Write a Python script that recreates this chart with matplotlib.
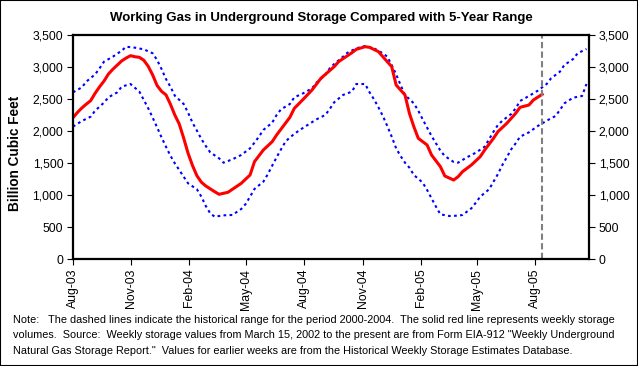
import numpy as np
import matplotlib
matplotlib.use("Agg")
import matplotlib.pyplot as plt
import matplotlib.dates as mdates
from matplotlib.patches import Rectangle
from matplotlib.ticker import FuncFormatter

# ---- data (week number counted from the week ending 2003-08-01) ----
start_date = np.datetime64("2003-08-01")
axis_end = np.datetime64("2005-10-25")
report_date = np.datetime64("2005-08-12")

red_weeks = [0, 1, 2, 3, 4, 5, 6, 7, 8, 9, 10, 11, 12, 13, 14, 15, 16, 17, 18, 19, 20, 21, 22,
             23, 24, 25, 26, 27, 28, 29, 30, 32, 33, 35, 38, 40, 41, 43, 45, 46, 49, 50, 52,
             54, 56, 59, 60, 63, 64, 66, 67, 69, 70, 72, 73, 75, 76, 77, 78, 80, 81, 83, 84,
             86, 87, 88, 89, 90, 92, 93, 95, 96, 98, 100, 101, 103, 104, 106]
red_vals = [2208, 2290, 2360, 2420, 2475, 2590, 2690, 2780, 2890, 2965, 3030, 3095, 3140, 3177,
            3160, 3151, 3105, 3010, 2875, 2710, 2620, 2565, 2420, 2250, 2110, 1890, 1651, 1460,
            1300, 1200, 1141, 1052, 1011, 1042, 1182, 1313, 1521, 1703, 1833, 1938, 2214, 2354,
            2495, 2641, 2823, 3005, 3083, 3223, 3276, 3317, 3307, 3240, 3161, 3005, 2719, 2563,
            2276, 2068, 1886, 1781, 1625, 1443, 1297, 1234, 1286, 1365, 1417, 1469, 1599, 1703,
            1886, 1990, 2120, 2276, 2370, 2406, 2484, 2573]

max_weeks = [0, 2, 3, 5, 6, 7, 9, 11, 12, 14, 16, 18, 19, 20, 21, 22, 23, 25, 26, 27, 28, 29,
             30, 31, 33, 34, 36, 38, 40, 41, 42, 43, 45, 46, 47, 49, 50, 52, 54, 55, 57, 58,
             59, 61, 62, 64, 66, 68, 70, 71, 72, 73, 74, 75, 77, 78, 79, 80, 81, 82, 83, 84,
             86, 87, 89, 91, 93, 94, 95, 96, 97, 99, 100, 101, 103, 105, 107, 108, 110, 111,
             113, 114, 116]
max_vals = [2604, 2682, 2771, 2885, 2979, 3083, 3161, 3255, 3317, 3302, 3276, 3214, 3109, 2969,
            2813, 2693, 2552, 2422, 2286, 2130, 2005, 1875, 1766, 1667, 1573, 1505, 1557, 1625,
            1729, 1818, 1911, 2016, 2130, 2250, 2339, 2422, 2526, 2589, 2667, 2755, 2875, 2979,
            3047, 3161, 3223, 3292, 3328, 3292, 3214, 3161, 3031, 2885, 2719, 2563, 2432, 2318,
            2182, 2052, 1922, 1807, 1693, 1609, 1516, 1505, 1589, 1661, 1755, 1870, 1990, 2094,
            2161, 2266, 2354, 2469, 2547, 2630, 2734, 2823, 2927, 3031, 3125, 3214, 3281]

min_weeks = [0, 2, 4, 5, 7, 8, 10, 11, 13, 15, 16, 17, 18, 19, 20, 21, 22, 23, 24, 25, 26, 28,
             29, 30, 31, 32, 34, 36, 38, 39, 40, 41, 43, 44, 45, 46, 47, 48, 49, 51, 53, 55,
             57, 58, 59, 61, 63, 64, 66, 67, 68, 69, 70, 71, 72, 73, 74, 75, 76, 77, 79, 80,
             81, 82, 83, 85, 87, 88, 90, 91, 92, 94, 95, 96, 97, 98, 99, 100, 101, 103, 105,
             107, 109, 110, 111, 113, 115, 116]
min_vals = [2068, 2156, 2224, 2318, 2443, 2526, 2604, 2693, 2734, 2615, 2484, 2354, 2208, 2057,
            1901, 1755, 1615, 1495, 1391, 1286, 1182, 1089, 974, 828, 714, 661, 682, 688, 781,
            859, 974, 1094, 1208, 1323, 1458, 1589, 1714, 1833, 1901, 2005, 2094, 2182, 2250,
            2344, 2448, 2563, 2615, 2734, 2734, 2604, 2495, 2370, 2234, 2078, 1911, 1729, 1609,
            1505, 1427, 1313, 1193, 1078, 948, 818, 698, 672, 677, 688, 792, 880, 974, 1089,
            1208, 1328, 1469, 1589, 1714, 1807, 1911, 1979, 2078, 2161, 2234, 2328, 2432, 2521,
            2547, 2734]

y_ticks = [0, 500, 1000, 1500, 2000, 2500, 3000, 3500]
x_tick_dates = ["2003-08-01", "2003-11-01", "2004-02-01", "2004-05-01", "2004-08-01",
                "2004-11-01", "2005-02-01", "2005-05-01", "2005-08-01"]

title = "Working Gas in Underground Storage Compared with 5-Year Range"
ylabel = "Billion Cubic Feet"
note_lines = [
    "Note:   The dashed lines indicate the historical range for the period 2000-2004.  The solid red line represents weekly storage",
    "volumes.  Source:  Weekly storage values from March 15, 2002 to the present are from Form EIA-912 \"Weekly Underground",
    "Natural Gas Storage Report.\"  Values for earlier weeks are from the Historical Weekly Storage Estimates Database.",
]


def to_dates(weeks):
    return start_date + np.array(weeks) * np.timedelta64(7, "D")


plt.rcParams["font.family"] = ["Liberation Sans", "DejaVu Sans"]

W, H = 638, 366
fig = plt.figure(figsize=(W / 100, H / 100), dpi=100)
fig.patch.set_facecolor("white")

L, R, T, B = 73, 589, 35, 259
ax = fig.add_axes([L / W, 1 - B / H, (R - L) / W, (B - T) / H])

ax.plot(to_dates(max_weeks), max_vals, color="#0000FF", lw=1.5, ls=(0, (1.3, 1.6)))
ax.plot(to_dates(min_weeks), min_vals, color="#0000FF", lw=1.5, ls=(0, (1.3, 1.6)))
ax.plot(to_dates(red_weeks), red_vals, color="#FF0000", lw=2.2, solid_joinstyle="round")
ax.axvline(report_date, color="#808080", lw=1.5, ls=(0, (3, 1.6)))

ax.set_xlim(start_date, axis_end)
ax.set_ylim(0, 3500)
ax.set_yticks(y_ticks)
ax.yaxis.set_major_formatter(FuncFormatter(lambda v, p: f"{int(v):,}"))
ax.set_xticks([np.datetime64(d) for d in x_tick_dates])
ax.xaxis.set_major_formatter(mdates.DateFormatter("%b-%y"))

for s in ax.spines.values():
    s.set_linewidth(1.6)
    s.set_color("black")

ax.tick_params(axis="both", direction="out", length=4, width=0.8, colors="black",
               labelsize=8.8)
ax.tick_params(axis="y", right=True, labelright=True, pad=3)
ax.tick_params(axis="x", pad=3)
for lab in ax.get_xticklabels():
    lab.set_rotation(90)

fig.text(321 / W, 1 - 18.5 / H, title, ha="center", va="center", fontsize=9.5,
         fontweight="bold")
fig.text(15 / W, 1 - 153 / H, ylabel, ha="center", va="center", rotation=90, fontsize=9.8,
         fontweight="bold")
for i, line in enumerate(note_lines):
    fig.text(13 / W, 1 - (320 + i * 15.3) / H, line, ha="left", va="center", fontsize=7.8)

fig.patches.append(Rectangle((0, 0), 1, 1, transform=fig.transFigure, fill=False,
                             edgecolor="black", lw=1.5))

fig.savefig("out.png", dpi=100, facecolor="white")
